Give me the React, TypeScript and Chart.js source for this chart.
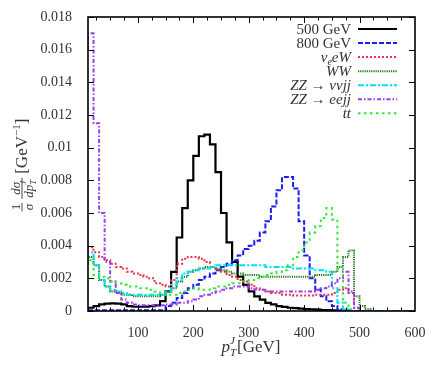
import React, { useEffect, useRef } from 'react';
import { Chart, registerables } from 'chart.js';

Chart.register(...registerables);

// ---------- data ----------
const ptEdges = [
  10, 20, 30, 40, 50, 60, 70, 80, 90, 100,
  110, 120, 130, 140, 150, 160, 170, 180, 190, 200,
  210, 220, 230, 240, 250, 260, 270, 280, 290, 300,
  310, 320, 330, 340, 350, 360, 370, 380, 390, 400,
  410, 420, 430, 440, 450, 460, 470, 480, 490, 500,
  510, 520, 530, 540, 550, 560, 570, 580, 590,
];
const ptUpper = 600;
const xTickValues = [100, 200, 300, 400, 500, 600];
const yTickValues = [0, 0.002, 0.004, 0.006, 0.008, 0.01, 0.012, 0.014, 0.016, 0.018];

const seriesLabels = ['500 GeV', '800 GeV', 'νₑeW', 'WW', 'ZZ → ννjj', 'ZZ → eejj', 'tt'];

const sig500 = [
  0.0001, 0.0002, 0.0003, 0.0004, 0.00045, 0.00047, 0.00045, 0.0004, 0.0003, 0.00026,
  0.00026, 0.00027, 0.0003, 0.00035, 0.0006, 0.0012, 0.0024, 0.0045, 0.0063, 0.008,
  0.0095, 0.0107, 0.0108, 0.0102, 0.0085, 0.006, 0.0042, 0.003, 0.0021, 0.0016,
  0.0012, 0.0009, 0.0007, 0.0005, 0.0004, 0.0003, 0.00025, 0.0002, 0.00017, 0.00014,
  0.00012, 0.0001, 0.00008, 0.00006, 0.00005, 0.00004, 0.00003, 0.00002, 0, 0,
  0, 0, 0, 0, 0, 0, 0, 0, 0,
];
const sig800 = [
  0.00005, 0.00005, 0.00005, 0.00005, 0.00005, 0.00005, 0.00005, 0.00005, 0.00005, 0.00005,
  0.00005, 0.00005, 0.00005, 0.00005, 0.00005, 0.0003, 0.0005, 0.0008, 0.0011, 0.0014,
  0.0016, 0.0019, 0.0021, 0.0023, 0.0025, 0.0027, 0.0029, 0.0031, 0.0034, 0.0038,
  0.004, 0.0043, 0.0048, 0.0055, 0.0064, 0.0074, 0.0082, 0.0082, 0.0075, 0.0055,
  0.0034, 0.002, 0.0013, 0.0009, 0.0006, 0.0003, 0.0001, 0.00005, 0, 0,
  0, 0, 0, 0, 0, 0, 0, 0, 0,
];
const bgNuEW = [
  0.0036, 0.0039, 0.0036, 0.0033, 0.0031, 0.0029, 0.0027, 0.0026, 0.0024, 0.0023,
  0.0022, 0.0021, 0.002, 0.0017, 0.0016, 0.0015, 0.0019, 0.0029, 0.0032, 0.0033,
  0.0033, 0.0032, 0.003, 0.0027, 0.0025, 0.0024, 0.0022, 0.0021, 0.0019, 0.0018,
  0.0016, 0.0014, 0.0013, 0.0012, 0.0011, 0.0011, 0.001, 0.001, 0.00095, 0.00095,
  0.00095, 0.00095, 0.001, 0.001, 0.001, 0.0011, 0.0013, 0.0014, 0.0011, 0.0002,
  0, 0, 0, 0, 0, 0, 0, 0, 0,
];
const bgWW = [
  0.0028, 0.0033, 0.0028, 0.0019, 0.0015, 0.0012, 0.0011, 0.001, 0.001, 0.0009,
  0.0009, 0.0009, 0.0009, 0.0009, 0.001, 0.0012, 0.0014, 0.0018, 0.0021, 0.0024,
  0.0025, 0.0026, 0.0027, 0.0027, 0.0026, 0.0025, 0.0024, 0.0023, 0.0023, 0.0022,
  0.0022, 0.0022, 0.0021, 0.0021, 0.0021, 0.0021, 0.0021, 0.0021, 0.0021, 0.0021,
  0.0021, 0.0021, 0.0022, 0.0022, 0.0022, 0.0024, 0.0027, 0.0033, 0.0037, 0.0009,
  0.0003, 0.0001, 0, 0, 0, 0, 0, 0, 0,
];
const bgZZnn = [
  0.0033, 0.0036, 0.0028, 0.0019, 0.0015, 0.0013, 0.0012, 0.0011, 0.001, 0.001,
  0.001, 0.001, 0.001, 0.001, 0.001, 0.0012, 0.0016, 0.002, 0.0023, 0.0024,
  0.0025, 0.0026, 0.0026, 0.0027, 0.0028, 0.0028, 0.0028, 0.0028, 0.0028, 0.0028,
  0.0028, 0.0028, 0.0028, 0.0027, 0.0027, 0.0027, 0.0027, 0.0027, 0.0026, 0.0026,
  0.0026, 0.0026, 0.0025, 0.0025, 0.0024, 0.0014, 0.0005, 0.0001, 0, 0,
  0, 0, 0, 0, 0, 0, 0, 0, 0,
];
const bgZZee = [
  0.016, 0.017, 0.0115, 0.006, 0.003, 0.0018, 0.0011, 0.0007, 0.0005, 0.0004,
  0.00035, 0.00035, 0.00035, 0.00035, 0.00035, 0.0004, 0.0004, 0.0005, 0.0005, 0.0006,
  0.0007, 0.0009, 0.001, 0.0011, 0.0012, 0.0013, 0.0014, 0.0015, 0.0015, 0.0015,
  0.0014, 0.0013, 0.0013, 0.0012, 0.0012, 0.0012, 0.0012, 0.0012, 0.0012, 0.0012,
  0.0012, 0.0012, 0.0013, 0.0014, 0.0015, 0.0017, 0.002, 0.0024, 0.0012, 0.0002,
  0, 0, 0, 0, 0, 0, 0, 0, 0,
];
const bgTT = [
  0.0028, 0.0031, 0.0022, 0.0021, 0.002, 0.0018, 0.0017, 0.0016, 0.0015, 0.0015,
  0.0014, 0.0014, 0.0013, 0.0012, 0.0011, 0.001, 0.001, 0.0011, 0.0012, 0.0013,
  0.0014, 0.0013, 0.0013, 0.0014, 0.0015, 0.0015, 0.0016, 0.0017, 0.0017, 0.0018,
  0.0019, 0.002, 0.0021, 0.0022, 0.0023, 0.0024, 0.0025, 0.0028, 0.0033, 0.0037,
  0.0042, 0.0048, 0.0052, 0.0057, 0.0063, 0.0056, 0.0026, 0.0005, 0.0001, 0,
  0, 0, 0, 0, 0, 0, 0, 0, 0,
];

const seriesValues = [sig500, sig800, bgNuEW, bgWW, bgZZnn, bgZZee, bgTT];

// ---------- styling ----------
const FONT = '"Liberation Serif", "DejaVu Serif", "Times New Roman", serif';
const INK = '#333333';

const seriesStyles = [
  { color: '#000000', dash: [] as number[], width: 2.2 },
  { color: '#1c1cf5', dash: [5, 2], width: 2 },
  { color: '#e8304f', dash: [2, 2], width: 2 },
  { color: '#1f7a1f', dash: [1.2, 1], width: 2 },
  { color: '#00dff0', dash: [6, 2, 2, 2], width: 2 },
  { color: '#9b3cf0', dash: [4, 2, 1.5, 2], width: 2 },
  { color: '#33e833', dash: [2.5, 3.5], width: 2 },
];

type Seg = { t?: string; size: number; italic?: boolean; dy?: number; sup?: string; sub?: string };

const fontOf = (size: number, italic?: boolean) => `${italic ? 'italic ' : ''}${size}px ${FONT}`;

function segW(ctx: CanvasRenderingContext2D, s: Seg) {
  ctx.font = fontOf(s.size, s.italic);
  if (s.sup !== undefined || s.sub !== undefined) {
    return Math.max(ctx.measureText(s.sup || '').width, ctx.measureText(s.sub || '').width) + 1;
  }
  return ctx.measureText(s.t || '').width;
}
function segsW(ctx: CanvasRenderingContext2D, segs: Seg[]) {
  return segs.reduce((a, s) => a + segW(ctx, s), 0);
}
function drawSegs(ctx: CanvasRenderingContext2D, segs: Seg[], x: number, y: number) {
  let cx = x;
  for (const s of segs) {
    const w = segW(ctx, s);
    ctx.font = fontOf(s.size, s.italic);
    if (s.sup !== undefined || s.sub !== undefined) {
      if (s.sup) ctx.fillText(s.sup, cx, y - s.size * 0.75);
      if (s.sub) ctx.fillText(s.sub, cx, y + s.size * 0.35);
    } else {
      ctx.fillText(s.t || '', cx, y + (s.dy || 0));
    }
    cx += w;
  }
  return cx;
}

const LSZ = 15;
const legendSegs: Seg[][] = [
  [{ t: seriesLabels[0], size: LSZ }],
  [{ t: seriesLabels[1], size: LSZ }],
  [{ t: 'ν', size: LSZ, italic: true }, { t: 'e', size: 10, italic: true, dy: 3 }, { t: 'eW', size: LSZ, italic: true }],
  [{ t: 'WW', size: LSZ, italic: true }],
  [{ t: 'ZZ', size: LSZ, italic: true }, { t: ' → ', size: LSZ }, { t: 'ννjj', size: LSZ, italic: true }],
  [{ t: 'ZZ', size: LSZ, italic: true }, { t: ' → ', size: LSZ }, { t: 'eejj', size: LSZ, italic: true }],
  [{ t: 'tt', size: LSZ, italic: true }],
];

const decorPlugin = {
  id: 'decor',
  afterDatasetsDraw(chart: any) {
    const ctx: CanvasRenderingContext2D = chart.ctx;
    const { left, right, top, bottom } = chart.chartArea;
    const xs = chart.scales.x;
    const ys = chart.scales.y;
    ctx.save();
    // ticks
    ctx.strokeStyle = '#000';
    ctx.lineWidth = 1;
    ctx.setLineDash([]);
    ctx.beginPath();
    for (let v = 25; v < ptUpper; v += 25) {
      if (v < xs.min) continue;
      const px = Math.round(xs.getPixelForValue(v)) + 0.5;
      const len = v % 100 === 0 ? 6 : 3.5;
      ctx.moveTo(px, bottom);
      ctx.lineTo(px, bottom - len);
      ctx.moveTo(px, top);
      ctx.lineTo(px, top + len);
    }
    for (const v of yTickValues) {
      const py = Math.round(ys.getPixelForValue(v)) + 0.5;
      ctx.moveTo(left, py);
      ctx.lineTo(left + 6, py);
      ctx.moveTo(right, py);
      ctx.lineTo(right - 6, py);
    }
    ctx.stroke();
    // frame
    ctx.lineWidth = 1.6;
    ctx.strokeRect(left, top, right - left, bottom - top);

    // legend
    ctx.fillStyle = INK;
    ctx.textBaseline = 'alphabetic';
    ctx.textAlign = 'left';
    const textRight = 351;
    const l0 = 358;
    const l1 = 397;
    for (let i = 0; i < legendSegs.length; i++) {
      const cy = top + 12 + i * 14.05;
      const w = segsW(ctx, legendSegs[i]);
      ctx.fillStyle = INK;
      drawSegs(ctx, legendSegs[i], textRight - w, cy + 5);
      const st = seriesStyles[i];
      ctx.strokeStyle = st.color;
      ctx.lineWidth = st.width;
      ctx.lineCap = 'butt';
      ctx.setLineDash(st.dash);
      ctx.beginPath();
      ctx.moveTo(l0, cy);
      ctx.lineTo(l1, cy);
      ctx.stroke();
    }
    ctx.setLineDash([]);

    // x title: p_T^J [GeV]
    ctx.fillStyle = INK;
    const xt: Seg[] = [
      { t: 'p', size: 17, italic: true },
      { sup: 'J', sub: 'T', size: 11, italic: true },
      { t: '[GeV]', size: 17 },
    ];
    const xw = segsW(ctx, xt);
    drawSegs(ctx, xt, 251 - xw / 2, 352);

    // y title (rotated)
    ctx.save();
    ctx.translate(27, 165);
    ctx.rotate(-Math.PI / 2);
    const fs = 13;
    const barY = -5;
    const numA: Seg[] = [{ t: '1', size: fs }];
    const denA: Seg[] = [{ t: 'σ', size: fs, italic: true }];
    const numB: Seg[] = [{ t: 'dσ', size: fs, italic: true }];
    const denB: Seg[] = [{ t: 'dp', size: fs, italic: true }, { sup: 'J', sub: 'T', size: 9, italic: true }];
    const tail: Seg[] = [{ t: '[GeV', size: 17 }, { t: '−1', size: 11, dy: -7 }, { t: ']', size: 17 }];
    const wA = Math.max(segsW(ctx, numA), segsW(ctx, denA)) + 2;
    const wB = Math.max(segsW(ctx, numB), segsW(ctx, denB)) + 2;
    const wT = segsW(ctx, tail);
    const gap = 4;
    const total = wA + gap + wB + gap + wT;
    let cx = -total / 2;
    const frac = (num: Seg[], den: Seg[], w: number) => {
      ctx.fillStyle = INK;
      drawSegs(ctx, num, cx + (w - segsW(ctx, num)) / 2, barY - 2.5);
      drawSegs(ctx, den, cx + (w - segsW(ctx, den)) / 2, barY + 11);
      ctx.strokeStyle = INK;
      ctx.lineWidth = 0.9;
      ctx.beginPath();
      ctx.moveTo(cx, barY);
      ctx.lineTo(cx + w, barY);
      ctx.stroke();
      cx += w;
    };
    frac(numA, denA, wA);
    cx += gap;
    frac(numB, denB, wB);
    cx += gap;
    ctx.fillStyle = INK;
    drawSegs(ctx, tail, cx, 0);
    ctx.restore();

    ctx.restore();
  },
};

export default function App() {
  const ref = useRef<HTMLCanvasElement>(null);
  useEffect(() => {
    document.body.style.margin = '0';
    const canvas = ref.current;
    if (!canvas) return;
    const datasets = seriesValues.map((vals, i) => ({
      label: seriesLabels[i],
      data: [
        ...ptEdges.map((x, j) => ({ x, y: vals[j] })),
        { x: ptUpper, y: vals[vals.length - 1] },
      ],
      borderColor: seriesStyles[i].color,
      backgroundColor: seriesStyles[i].color,
      borderWidth: seriesStyles[i].width,
      borderDash: seriesStyles[i].dash,
      borderCapStyle: 'butt' as const,
      borderJoinStyle: 'miter' as const,
      stepped: 'after' as const,
      pointRadius: 0,
      fill: false,
      order: seriesValues.length - 1 - i,
    }));
    const chart = new Chart(canvas, {
      type: 'line',
      data: { datasets },
      options: {
        animation: false,
        responsive: false,
        maintainAspectRatio: false,
        layout: { padding: { top: 17, right: 25, bottom: 0, left: 0 } },
        plugins: { legend: { display: false }, tooltip: { enabled: false }, title: { display: false } },
        scales: {
          x: {
            type: 'linear',
            min: ptEdges[0],
            max: ptUpper,
            grid: { display: false },
            border: { display: false },
            afterBuildTicks: (s: any) => {
              s.ticks = xTickValues.map((v) => ({ value: v }));
            },
            afterFit: (s: any) => {
              s.height = 56;
            },
            ticks: {
              padding: 6,
              color: INK,
              font: { family: FONT, size: 14 },
              maxRotation: 0,
              autoSkip: false,
              callback: (v: any) => String(v),
            },
          },
          y: {
            type: 'linear',
            min: 0,
            max: 0.018,
            grid: { display: false },
            border: { display: false },
            afterBuildTicks: (s: any) => {
              s.ticks = yTickValues.map((v) => ({ value: v }));
            },
            afterFit: (s: any) => {
              s.width = 88;
            },
            ticks: {
              padding: 8,
              color: INK,
              font: { family: FONT, size: 14 },
              autoSkip: false,
              callback: (v: any) => (Number(v) === 0 ? '0' : String(Number(Number(v).toFixed(3)))),
            },
          },
        },
      },
      plugins: [decorPlugin],
    });
    return () => chart.destroy();
  }, []);
  return (
    <div style={{ width: 440, height: 367, background: '#fff' }}>
      <canvas ref={ref} width={440} height={367} style={{ display: 'block' }} />
    </div>
  );
}
